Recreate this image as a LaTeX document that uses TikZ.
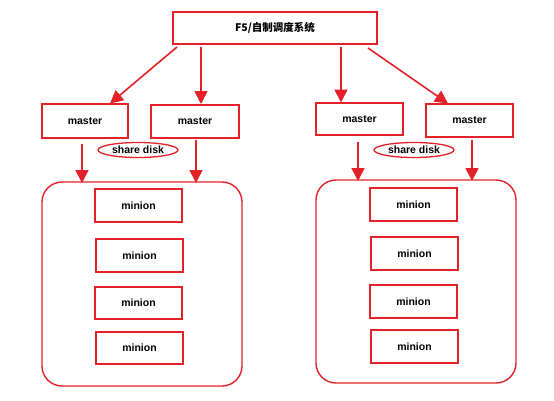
\documentclass[tikz,border=0pt]{standalone}
\usepackage{fontspec}
\setmainfont{Liberation Sans}
\newfontfamily\cjk{Noto Sans CJK SC}
\usetikzlibrary{arrows.meta,shapes.geometric}
\definecolor{rd}{RGB}{228,32,40}
\tikzset{
  box/.style={draw=rd,line width=1.4pt,fill=white,inner sep=0pt,font=\fontsize{10.5}{12}\selectfont\bfseries},
  grp/.style={draw=rd,line width=1.4pt,rounded corners=20pt},
  disk/.style={draw=rd,line width=1.3pt,ellipse,inner sep=0pt,font=\fontsize{10.5}{12}\selectfont\bfseries},
  arr/.style={draw=rd,line width=1.6pt,-{Triangle[length=13pt,width=13pt]}}
}
\begin{document}
\begin{tikzpicture}[x=1pt,y=-1pt]
\useasboundingbox (0,0) rectangle (554,400);
% top
\node[box,minimum width=204pt,minimum height=32pt] (top) at (275,28) {\cjk\bfseries F5/自制调度系统};
% masters
\node[box,minimum width=86pt,minimum height=34pt] (m1) at (85,121) {master};
\node[box,minimum width=88pt,minimum height=33pt] (m2) at (195,121.5) {master};
\node[box,minimum width=87pt,minimum height=32pt] (m3) at (359.5,119) {master};
\node[box,minimum width=87pt,minimum height=33pt] (m4) at (469.5,120.5) {master};
% share disk
\node[disk,minimum width=80pt,minimum height=15pt] (d1) at (138,150) {share disk};
\node[disk,minimum width=80pt,minimum height=15pt] (d2) at (414,150) {share disk};
% groups
\draw[grp] (42,182) rectangle (242,386);
\draw[grp] (316,180) rectangle (516,383);
\coordinate (g1a) at (82,183);
\coordinate (g1b) at (196,183);
\coordinate (g2a) at (358,181);
\coordinate (g2b) at (472,181);
% minions left
\node[box,minimum width=87pt,minimum height=33pt] (a1) at (138.5,205.5) {minion};
\node[box,minimum width=87pt,minimum height=33pt] (a2) at (139.5,255.5) {minion};
\node[box,minimum width=87pt,minimum height=32pt] (a3) at (138.5,303) {minion};
\node[box,minimum width=87pt,minimum height=32pt] (a4) at (139.5,348) {minion};
% minions right
\node[box,minimum width=87pt,minimum height=33pt] (b1) at (413.5,204.5) {minion};
\node[box,minimum width=87pt,minimum height=33pt] (b2) at (414.5,253.5) {minion};
\node[box,minimum width=87pt,minimum height=33pt] (b3) at (413.5,301.5) {minion};
\node[box,minimum width=87pt,minimum height=33pt] (b4) at (414.5,346.5) {minion};
% arrows from top
\coordinate (t1) at (177,47);
\coordinate (t2) at (201,47);
\coordinate (t3) at (341,47);
\coordinate (t4) at (368,48);
\draw[arr] (t1) -- (110,103.5);
\draw[arr] (t2) -- (201,104);
\draw[arr] (t3) -- (341,102.5);
\draw[arr] (t4) -- (448,103.5);
% arrows to groups
\draw[arr] (82,144) -- (g1a);
\draw[arr] (196,140) -- (g1b);
\draw[arr] (358,142) -- (g2a);
\draw[arr] (472,140) -- (g2b);
\end{tikzpicture}
\end{document}
